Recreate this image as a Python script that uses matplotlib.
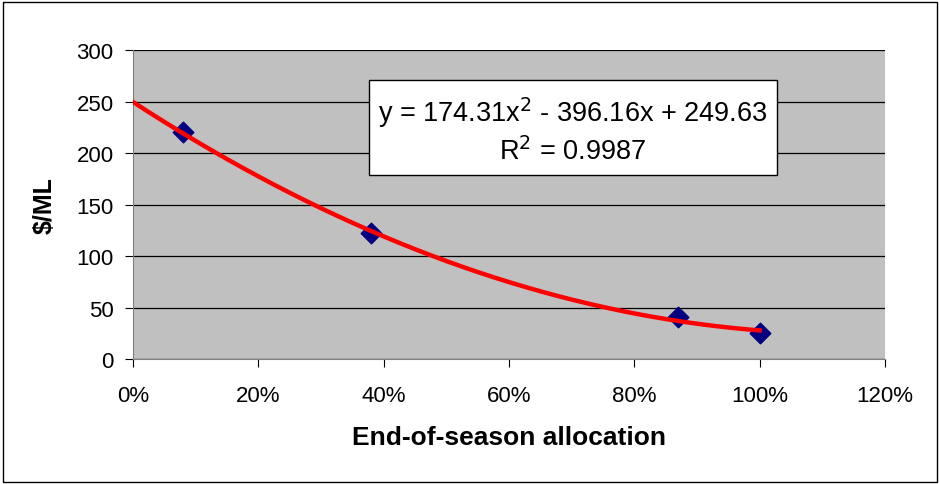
import numpy as np
import matplotlib
matplotlib.use('Agg')
import matplotlib.pyplot as plt
from matplotlib.ticker import FuncFormatter
from matplotlib.patches import Rectangle

plt.rcParams['font.family'] = ['Liberation Sans', 'DejaVu Sans']

# Data
allocation = [0.08, 0.38, 0.87, 1.00]
price_per_ml = [220, 122, 41, 25]
trend_coef = [174.31, -396.16, 249.63]
r_squared = 0.9987

fig = plt.figure(figsize=(9.4, 4.85), dpi=100)
ax = fig.add_axes([0.1415, 0.2577, 0.80, 0.637])
ax.set_facecolor('#C0C0C0')

# Outer chart border
fig.patches.append(Rectangle((0.003, 0.004), 0.994, 0.99, transform=fig.transFigure,
                             fill=False, edgecolor='black', linewidth=1.0))

ax.yaxis.grid(True, color='black', linewidth=0.9)
ax.set_axisbelow(True)

x_trend = np.linspace(0, max(allocation), 200)
ax.plot(x_trend, np.polyval(trend_coef, x_trend), color='#FF0000', linewidth=3.2, zorder=3)
ax.scatter(allocation, price_per_ml, marker='D', s=110, color='#000080', zorder=2)

ax.set_xlim(0, 1.2)
ax.set_ylim(0, 300)
ax.set_xticks(np.arange(0, 1.21, 0.2))
ax.set_yticks(np.arange(0, 301, 50))
ax.xaxis.set_major_formatter(FuncFormatter(lambda v, p: '%d%%' % round(v * 100)))

for s in ['top', 'right']:
    ax.spines[s].set_visible(False)
ax.spines['left'].set_color('#808080')
ax.spines['bottom'].set_color('#808080')
ax.tick_params(axis='both', direction='out', length=6, color='black', labelsize=16)
ax.tick_params(axis='x', pad=13)
ax.tick_params(axis='y', pad=8)

ax.set_xlabel('End-of-season allocation', fontsize=19, fontweight='bold')
ax.xaxis.set_label_coords(0.5, -0.213)
ax.set_ylabel('$/ML', fontsize=18, fontweight='bold')
ax.yaxis.set_label_coords(-0.101, 0.5)

# Trendline equation box
ax.add_patch(Rectangle((0.314, 0.595), 0.542, 0.309, transform=ax.transAxes,
                       facecolor='white', edgecolor='black', linewidth=1, zorder=4))
eq1 = 'y = %.2fx$^2$ - %.2fx + %.2f' % (trend_coef[0], -trend_coef[1], trend_coef[2])
eq2 = 'R$^2$ = %.4f' % r_squared
ax.text(0.585, 0.80, eq1, transform=ax.transAxes, ha='center', va='center', fontsize=19.5, zorder=5)
ax.text(0.585, 0.675, eq2, transform=ax.transAxes, ha='center', va='center', fontsize=19.5, zorder=5)

fig.savefig('out.png', dpi=100)
